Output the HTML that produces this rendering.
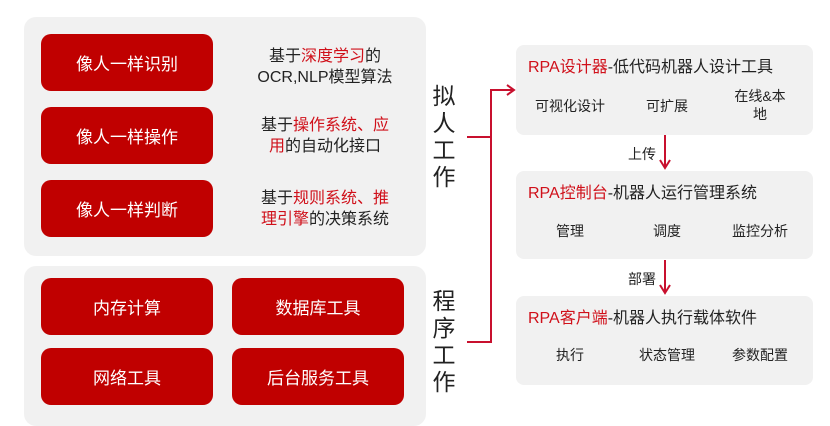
<!DOCTYPE html>
<html><head><meta charset="utf-8"><style>
body{margin:0;width:830px;height:418px;background:#fff;position:relative;overflow:hidden;font-family:"Liberation Sans","Noto Sans CJK SC",sans-serif;color:#222}
div{position:absolute;box-sizing:border-box}
.panel{background:#f1f1f1;border-radius:12px}
.btn{background:#c00000;color:#fff;border-radius:10px;font-size:17px;display:flex;align-items:center;justify-content:center}
.desc{font-size:16px;text-align:center;line-height:21px;width:150px}
.r{color:#d0101a}
.vt{font-size:23px;line-height:27px;width:26px;text-align:center}
.rb{background:#f1f1f1;border-radius:8px;left:516px;width:297px}
.t{font-size:16px;left:12px;top:8px;white-space:nowrap}
.it{font-size:14px;text-align:center;width:90px;line-height:18px}
.lab{font-size:14px}
</style></head><body>
<div class="panel" style="left:24px;top:17px;width:402px;height:239px"></div>
<div class="panel" style="left:24px;top:266px;width:402px;height:160px"></div>
<div class="btn" style="left:41px;top:34px;width:172px;height:57px">像人一样识别</div>
<div class="btn" style="left:41px;top:107px;width:172px;height:57px">像人一样操作</div>
<div class="btn" style="left:41px;top:180px;width:172px;height:57px">像人一样判断</div>
<div class="desc" style="left:250px;top:46px">基于<span class="r">深度学习</span>的<br>OCR,NLP模型算法</div>
<div class="desc" style="left:250px;top:115px">基于<span class="r">操作系统、应<br>用</span>的自动化接口</div>
<div class="desc" style="left:250px;top:188px">基于<span class="r">规则系统、推<br>理引擎</span>的决策系统</div>
<div class="btn" style="left:41px;top:278px;width:172px;height:57px">内存计算</div>
<div class="btn" style="left:232px;top:278px;width:172px;height:57px">数据库工具</div>
<div class="btn" style="left:41px;top:348px;width:172px;height:57px">网络工具</div>
<div class="btn" style="left:232px;top:348px;width:172px;height:57px">后台服务工具</div>
<div class="vt" style="left:431px;top:83px">拟<br>人<br>工<br>作</div>
<div class="vt" style="left:431px;top:288px">程<br>序<br>工<br>作</div>
<svg style="position:absolute;left:0;top:0" width="830" height="418">
<g stroke="#c8102e" stroke-width="2" fill="none">
<polyline points="467,137 491,137"/>
<polyline points="467,342 491,342 491,90 513,90"/>
<polyline points="507,85 514,90 507,95"/>
<line x1="665" y1="135" x2="665" y2="167"/>
<polyline points="660,160 665,168 670,160"/>
<line x1="665" y1="260" x2="665" y2="292"/>
<polyline points="660,285 665,293 670,285"/>
</g></svg>
<div class="rb" style="top:45px;height:90px"><div class="t"><span class="r">RPA设计器</span>-低代码机器人设计工具</div>
<div class="it" style="left:9px;top:52px">可视化设计</div><div class="it" style="left:106px;top:52px">可扩展</div><div class="it" style="left:199px;top:42px">在线&amp;本<br>地</div></div>
<div class="lab" style="left:628px;top:144px">上传</div>
<div class="rb" style="top:171px;height:88px"><div class="t"><span class="r">RPA控制台</span>-机器人运行管理系统</div>
<div class="it" style="left:9px;top:51px">管理</div><div class="it" style="left:106px;top:51px">调度</div><div class="it" style="left:199px;top:51px">监控分析</div></div>
<div class="lab" style="left:628px;top:269px">部署</div>
<div class="rb" style="top:296px;height:89px"><div class="t"><span class="r">RPA客户端</span>-机器人执行载体软件</div>
<div class="it" style="left:9px;top:50px">执行</div><div class="it" style="left:106px;top:50px">状态管理</div><div class="it" style="left:199px;top:50px">参数配置</div></div>
</body></html>
